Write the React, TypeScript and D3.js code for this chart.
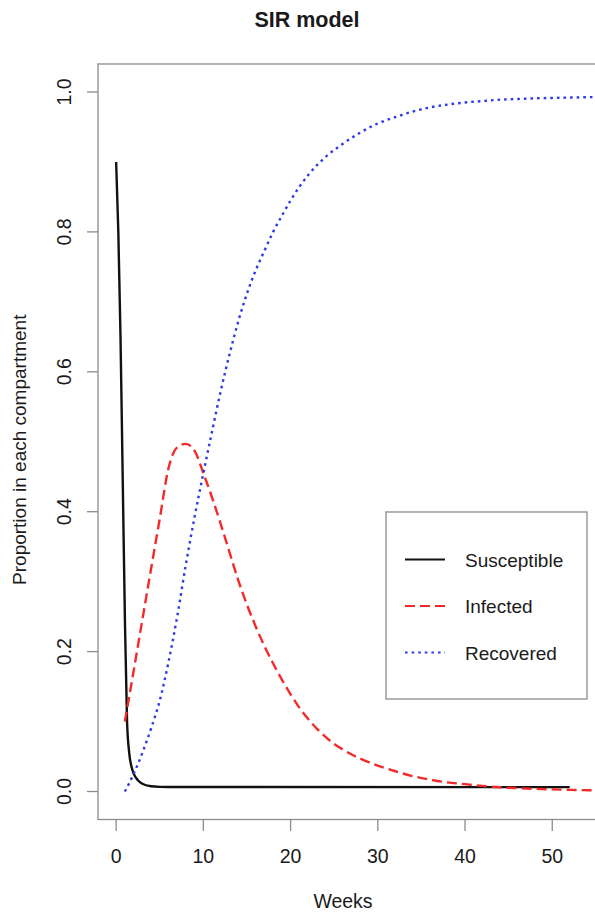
import React from "react";
import * as d3 from "d3";

// Weeks at which each compartment was recorded
const susceptibleWeeks = [0, 0.25, 0.5, 0.75, 1, 1.25, 1.5, 1.75, 2, 2.5, 3, 4, 5, 6, 52];
const susceptibleValues = [0.9, 0.8, 0.65, 0.45, 0.25, 0.1, 0.055, 0.036, 0.026, 0.016, 0.011, 0.0075, 0.0067, 0.0065, 0.0063];

const infectedWeeks = [1, 2, 3, 4, 5, 6, 7, 8, 9, 10, 11, 12, 13, 14, 15, 16, 17, 18, 19, 20, 21, 22, 23, 24, 25, 26, 27, 28, 30, 32, 34, 36, 38, 40, 42, 44, 46, 48, 50, 52, 54, 56];
const infectedValues = [0.1, 0.172, 0.245, 0.318, 0.39, 0.462, 0.492, 0.497, 0.487, 0.455, 0.42, 0.382, 0.342, 0.302, 0.267, 0.236, 0.208, 0.183, 0.16, 0.139, 0.12, 0.104, 0.09, 0.078, 0.068, 0.06, 0.053, 0.047, 0.037, 0.029, 0.022, 0.017, 0.013, 0.0105, 0.008, 0.006, 0.0048, 0.0038, 0.003, 0.0024, 0.0019, 0.0015];

const recoveredWeeks = [1, 2, 3, 4, 5, 6, 7, 8, 9, 10, 11, 12, 13, 14, 15, 16, 17, 18, 19, 20, 22, 24, 26, 28, 30, 32, 34, 36, 38, 40, 42, 44, 46, 48, 50, 52, 54, 56];
const recoveredValues = [0, 0.025, 0.055, 0.09, 0.13, 0.185, 0.25, 0.325, 0.393, 0.455, 0.515, 0.573, 0.625, 0.672, 0.712, 0.745, 0.773, 0.8, 0.823, 0.845, 0.881, 0.907, 0.926, 0.942, 0.955, 0.964, 0.972, 0.978, 0.982, 0.985, 0.987, 0.989, 0.99, 0.991, 0.9915, 0.992, 0.9925, 0.993];

const xTicks = [0, 10, 20, 30, 40, 50];
const yTicks = [0, 0.2, 0.4, 0.6, 0.8, 1.0];

const seriesNames = ["Susceptible", "Infected", "Recovered"];
const seriesColors = ["#111111", "#f42a2a", "#2f3ce6"];
const seriesDashes = [undefined, "10,5", "2.6,4"];

const W = 595;
const H = 913;
const plot = { left: 98, right: 612, top: 64, bottom: 819.5 };
const FONT = "'Liberation Sans', Arial, Helvetica, sans-serif";

export default function App() {
  const x = d3.scaleLinear().domain([-2.08, 56.85]).range([plot.left, plot.right]);
  const y = d3.scaleLinear().domain([-0.04, 1.04]).range([plot.bottom, plot.top]);

  const line = d3
    .line<[number, number]>()
    .x((d) => x(d[0]))
    .y((d) => y(d[1]))
    .curve(d3.curveMonotoneX);

  const series = [
    d3.zip(susceptibleWeeks, susceptibleValues) as [number, number][],
    d3.zip(infectedWeeks, infectedValues) as [number, number][],
    d3.zip(recoveredWeeks, recoveredValues) as [number, number][],
  ];

  const axisColor = "#8c8c8c";
  const textColor = "#1a1a1a";
  const yMid = (plot.top + plot.bottom) / 2;

  const legend = { left: 386, top: 512, right: 587, bottom: 699 };
  const legendRows = [559.5, 606, 652.5];

  return (
    <svg
      width={W}
      height={H}
      style={{ position: "absolute", left: 0, top: 0, background: "#fff" }}
      fontFamily={FONT}
    >
      <defs>
        <clipPath id="plotClip">
          <rect x={plot.left} y={plot.top} width={plot.right - plot.left} height={plot.bottom - plot.top} />
        </clipPath>
      </defs>

      <text x={307} y={27} textAnchor="middle" fontSize={21.5} fontWeight="bold" fill={textColor}>
        SIR model
      </text>

      {/* plot frame */}
      <rect
        x={plot.left}
        y={plot.top}
        width={plot.right - plot.left}
        height={plot.bottom - plot.top}
        fill="none"
        stroke={axisColor}
        strokeWidth={1.3}
      />

      {/* x axis */}
      {xTicks.map((t) => (
        <g key={"x" + t}>
          <line x1={x(t)} x2={x(t)} y1={plot.bottom} y2={plot.bottom + 11.5} stroke={axisColor} strokeWidth={1.3} />
          <text x={x(t)} y={862.5} textAnchor="middle" fontSize={19.5} fill={textColor}>
            {t}
          </text>
        </g>
      ))}
      <text x={343} y={908} textAnchor="middle" fontSize={19.5} fill={textColor}>
        Weeks
      </text>

      {/* y axis */}
      {yTicks.map((t) => (
        <g key={"y" + t}>
          <line x1={plot.left - 11} x2={plot.left} y1={y(t)} y2={y(t)} stroke={axisColor} strokeWidth={1.3} />
          <text
            transform={`translate(71,${y(t)}) rotate(-90)`}
            textAnchor="middle"
            fontSize={19.5}
            fill={textColor}
          >
            {t.toFixed(1)}
          </text>
        </g>
      ))}
      <text
        transform={`translate(26,${yMid + 8}) rotate(-90)`}
        textAnchor="middle"
        fontSize={19}
        fill={textColor}
      >
        Proportion in each compartment
      </text>

      {/* curves */}
      <g clipPath="url(#plotClip)">
        {series.map((s, i) => (
          <path
            key={seriesNames[i]}
            d={line(s) ?? ""}
            fill="none"
            stroke={seriesColors[i]}
            strokeWidth={2.4}
            strokeDasharray={seriesDashes[i]}
            strokeLinejoin="round"
          />
        ))}
      </g>

      {/* legend */}
      <rect
        x={legend.left}
        y={legend.top}
        width={legend.right - legend.left}
        height={legend.bottom - legend.top}
        fill="#fff"
        stroke={axisColor}
        strokeWidth={1.3}
      />
      {seriesNames.map((name, i) => (
        <g key={"leg" + name}>
          <line
            x1={405}
            x2={445}
            y1={legendRows[i]}
            y2={legendRows[i]}
            stroke={seriesColors[i]}
            strokeWidth={2}
            strokeDasharray={seriesDashes[i]}
          />
          <text x={465} y={legendRows[i] + 7} fontSize={19} fill={textColor}>
            {name}
          </text>
        </g>
      ))}
    </svg>
  );
}
